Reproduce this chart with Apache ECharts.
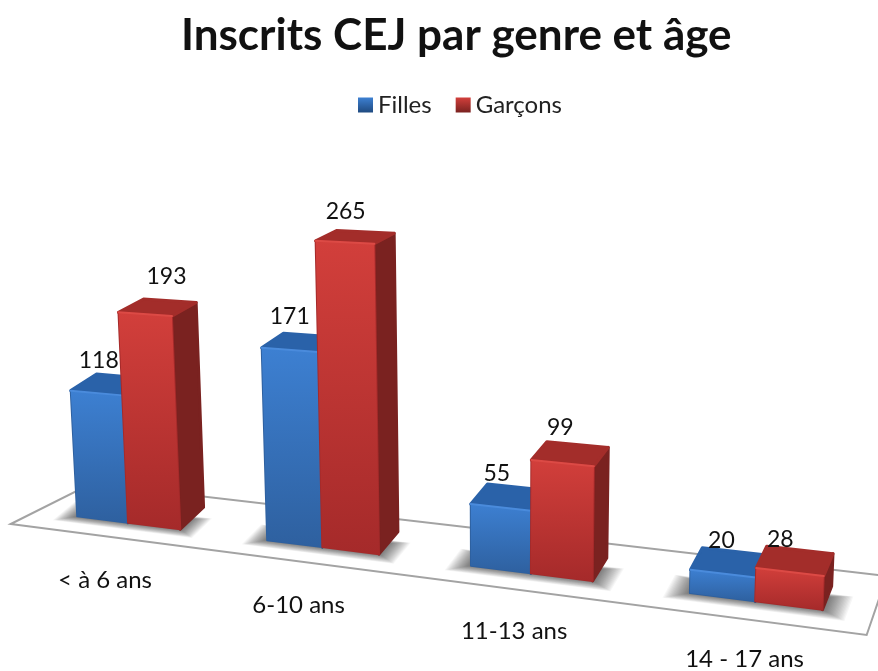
<!DOCTYPE html>
<html>
<head>
<meta charset="utf-8">
<title>Inscrits CEJ par genre et âge</title>
<style>
  html, body { margin: 0; padding: 0; background: #fff; }
  #chart { width: 878px; height: 671px; }
</style>
<script src="https://cdn.jsdelivr.net/npm/echarts@6/dist/echarts.min.js"></script>
</head>
<body>
<div id="chart"></div>
<script>
const categories = ["< à 6 ans", "6-10 ans", "11-13 ans", "14 - 17 ans"];
const filles = [118, 171, 55, 20];
const garcons = [193, 265, 99, 28];

const FONT = "Lato, 'Noto Sans', sans-serif";
const gradient = (top, bottom) =>
  new echarts.graphic.LinearGradient(0, 0, 0, 1, [
    { offset: 0, color: top },
    { offset: 1, color: bottom },
  ]);

const BLUE = { front: ["#3d80d2", "#2e609f"], top: "#2a62a9", side: "#1f4a80", edge: "#4a8bdc" };
const RED = { front: ["#d23f3b", "#a52a2a"], top: "#a32d2a", side: "#7a2220", edge: "#dc4a45" };

// homography of the floor, u goes along the categories, v goes to the back
const H = { a: 692.5, b: 88.2, c: 10.7, d: -8.8, e: -1.28, f: 524, g: -0.1886, h: 0.0809 };
const LEAN_X = -0.0575;
const LEAN_W = 1.15e-4;
const V_FRONT = 0.3;

const vBack = (u) => 0.8 - 0.1 * u;
const barU = (u) => 0.0725 - 0.005 * u;
// grid pixel to floor position, slightly bent so the groups land where they do in the 3D view
const floorU = (x, sys) => {
  const u = (x - sys.x) / sys.width;
  return u + 0.015 + 0.001 * (u - 0.5) - 0.06 * (u - 0.5) * (u - 0.5);
};
// the homography overshoots the height on the near side
const heightScale = (u) => 1 - 0.035 * Math.min(1, Math.max(0, (u - 0.4) / 0.2));

function plane(u, v, height) {
  const w = H.g * u + H.h * v + 1 - LEAN_W * height;
  return [
    (H.a * u + H.b * v + H.c + LEAN_X * height) / w,
    (H.d * u + H.e * v + H.f - height) / w,
  ];
}

// bars lean a little more than the floor on the left side
function project(u, v, height) {
  return plane(u - 0.041 * (1 - u) * (v - V_FRONT), v, height);
}

function face(points, fill, stroke, width) {
  return {
    type: "polygon",
    shape: { points: points },
    style: { fill: fill, stroke: stroke || fill, lineWidth: width || 3, lineJoin: "round" },
  };
}

function renderBar(colors, side, shift) {
  return function (params, api) {
    const sys = params.coordSys;
    const base = api.coord([api.value(0), 0]);
    const top = api.coord([api.value(0), api.value(1)]);
    const uc = floorU(base[0], sys);
    const bar = barU(uc);
    const u0 = side < 0 ? uc - bar : uc;
    const u1 = u0 + bar;
    const h = (base[1] - top[1]) * heightScale(uc);
    const back = vBack(u1);

    const fl = project(u0, V_FRONT, 0);
    const fr = project(u1, V_FRONT, 0);
    const br = project(u1, back, 0);
    const tfl = project(u0, V_FRONT, h);
    const tfr = project(u1, V_FRONT, h);
    const tbl = project(u0, back, h);
    const tbr = project(u1, back, h);
    const front = gradient(colors.front[0], colors.front[1]);

    return {
      type: "group",
      children: [
        face([tfr, tbr, br, fr], colors.side),
        face([tfl, tbl, tbr, tfr], colors.top),
        face([tfl, tfr, fr, fl], front, colors.front[1], 2),
        face([tfl, tfr, fr, fl], front, "transparent", 2),
        {
          type: "polyline",
          shape: { points: [tfl, tfr] },
          style: { fill: null, stroke: colors.edge, lineWidth: 2, lineCap: "round" },
        },
        {
          type: "text",
          x: tfl[0] + shift[params.dataIndex][0],
          y: tfl[1] + shift[params.dataIndex][1],
          style: {
            text: String(api.value(1)),
            font: "23px " + FONT,
            fill: "#111",
            align: "center",
            verticalAlign: "middle",
          },
        },
      ],
    };
  };
}

function renderBase(params, api) {
  const sys = params.coordSys;
  const base = api.coord([api.value(0), 0]);
  const uc = floorU(base[0], sys);
  const bar = barU(uc);
  const front = project(uc, V_FRONT, 0);
  const children = [];
  if (params.dataIndex === 0) {
    children.push({
      type: "polygon",
      shape: { points: [plane(0, 0, 0), plane(1, 0, 0), plane(1, 1, 0), plane(0, 1, 0)] },
      style: { fill: "#fff", stroke: "#a3a3a3", lineWidth: 2 },
    });
  }
  // soft contact shadow, stacked layers growing out of the footprint
  for (let k = 0; k < 20; k++) {
    const du = bar + 0.0013 * k;
    const vf = V_FRONT - 0.007 * k;
    const vb = V_FRONT + 0.22 + 0.003 * k;
    children.push({
      type: "polygon",
      shape: {
        points: [
          project(uc - du, vf, 0),
          project(uc + du, vf, 0),
          project(uc + du, vb, 0),
          project(uc - du, vb, 0),
        ],
      },
      style: { fill: "rgba(0,0,0,0.035)" },
    });
  }
  children.push({
    type: "text",
    x: front[0] - 70,
    y: front[1] + 58,
    style: {
      text: categories[params.dataIndex],
      font: "24px " + FONT,
      fill: "#111",
      align: "left",
      verticalAlign: "middle",
    },
  });
  return { type: "group", children: children };
}

const fillesShift = [[28, -30], [28, -31], [26, -30], [31, -29]];
const garconsShift = [[48, -36], [30, -29], [29, -32], [24, -28]];

const option = {
  animation: false,
  backgroundColor: "#fff",
  title: {
    text: "Inscrits CEJ par genre et âge",
    left: 176,
    top: 9,
    textStyle: { fontFamily: FONT, fontSize: 44, fontWeight: "bold", color: "#111" },
  },
  legend: {
    top: 88,
    left: 353,
    itemWidth: 15,
    itemHeight: 15,
    itemGap: 24,
    textStyle: { fontFamily: FONT, fontSize: 24, color: "#222" },
    data: [
      { name: "Filles", icon: "rect", itemStyle: { color: gradient(BLUE.front[0], BLUE.side) } },
      { name: "Garçons", icon: "rect", itemStyle: { color: gradient(RED.front[0], RED.side) } },
    ],
  },
  grid: { left: 0, right: 0, top: 150, height: 339 },
  xAxis: { type: "category", data: categories, show: false },
  yAxis: { type: "value", min: 0, max: 300, show: false },
  series: [
    {
      name: "base",
      type: "custom",
      silent: true,
      z: 1,
      clip: false,
      renderItem: renderBase,
      encode: { x: 0, y: 1 },
      data: categories.map((c, i) => [i, 0]),
    },
    {
      name: "Filles",
      type: "custom",
      z: 3,
      clip: false,
      itemStyle: { color: BLUE.front[0] },
      renderItem: renderBar(BLUE, -1, fillesShift),
      encode: { x: 0, y: 1 },
      data: filles.map((v, i) => [i, v]),
    },
    {
      name: "Garçons",
      type: "custom",
      z: 4,
      clip: false,
      itemStyle: { color: RED.front[0] },
      renderItem: renderBar(RED, 1, garconsShift),
      encode: { x: 0, y: 1 },
      data: garcons.map((v, i) => [i, v]),
    },
  ],
};

const myChart = echarts.init(document.getElementById("chart"));
myChart.setOption(option);
</script>
</body>
</html>
